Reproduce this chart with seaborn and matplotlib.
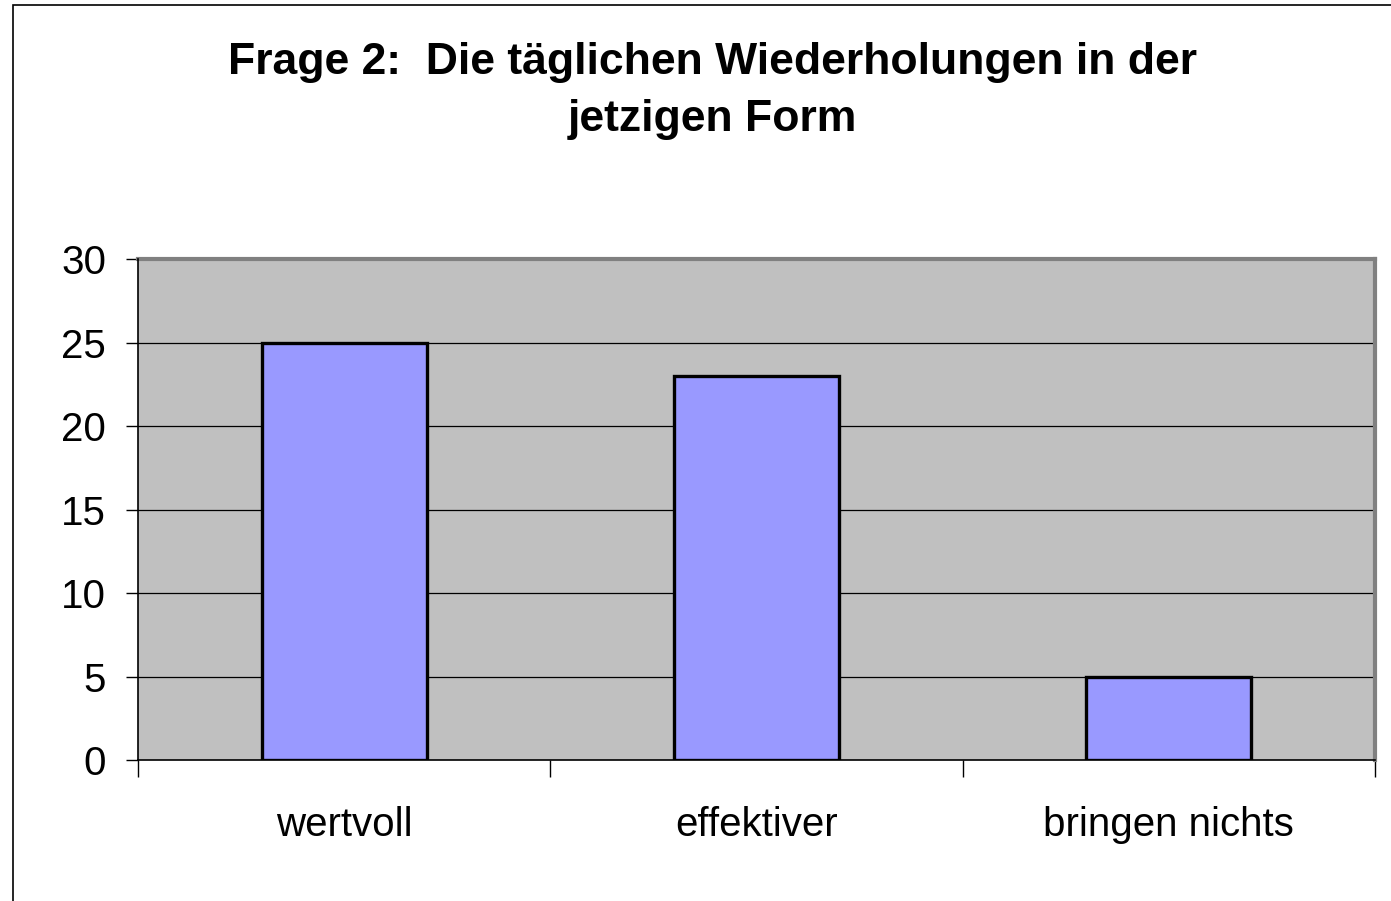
import pandas as pd
import matplotlib.pyplot as plt
import seaborn as sns
from matplotlib.patches import Rectangle

# data
categories = ["wertvoll", "effektiver", "bringen nichts"]
counts = [25, 23, 5]
y_ticks = [0, 5, 10, 15, 20, 25, 30]

df = pd.DataFrame({"Antwort": categories, "Anzahl": counts})

sns.set_style("white")
plt.rcParams['font.family'] = ['Liberation Sans', 'DejaVu Sans']
plt.rcParams['text.color'] = 'black'
plt.rcParams['xtick.color'] = 'black'
plt.rcParams['ytick.color'] = 'black'

fig = plt.figure(figsize=(13.91, 9.01), dpi=100)
ax = fig.add_axes([0.0992, 0.1565, 0.8893, 0.556])
ax.set_facecolor("#C0C0C0")

# horizontal grid lines (black, thin)
for v in y_ticks[1:-1]:
    ax.axhline(v, color="black", lw=0.9, zorder=1)

sns.barplot(data=df, x="Antwort", y="Anzahl", color="#9999FF", width=0.4,
            edgecolor="black", linewidth=2.4, saturation=1, ax=ax, zorder=2)

ax.set_xlim(-0.5, 2.5)
ax.set_ylim(0, 30)
ax.set_yticks(y_ticks)
ax.set_yticklabels([str(v) for v in y_ticks], fontsize=29)
ax.set_xticks([0, 1, 2])
ax.set_xticklabels(categories, fontsize=29)
ax.set_xlabel("")
ax.set_ylabel("")

# ticks: y ticks outward, x ticks at category boundaries
ax.tick_params(axis="y", direction="out", length=9, width=1, pad=14, left=True)
ax.tick_params(axis="x", length=0, pad=33)
ax.set_xticks([-0.5, 0.5, 1.5, 2.5], minor=True)
ax.tick_params(axis="x", which="minor", direction="out", length=12, width=1, bottom=True)

for side in ["top", "right"]:
    ax.spines[side].set_color("#808080")
    ax.spines[side].set_linewidth(3)
for side in ["left", "bottom"]:
    ax.spines[side].set_color("black")
    ax.spines[side].set_linewidth(1.2)
    ax.spines[side].set_zorder(3)

fig.text(0.512, 0.899, "Frage 2:  Die täglichen Wiederholungen in der\njetzigen Form",
         ha="center", va="center", fontsize=32, fontweight="bold", linespacing=1.5)

# outer chart frame (visible on left and top)
fig.patches.append(Rectangle((13 / 1391, -0.05), 1.2, 1.05 - 5 / 901, transform=fig.transFigure,
                             fill=False, edgecolor="black", lw=1.2))

fig.savefig("out.png", dpi=100)
